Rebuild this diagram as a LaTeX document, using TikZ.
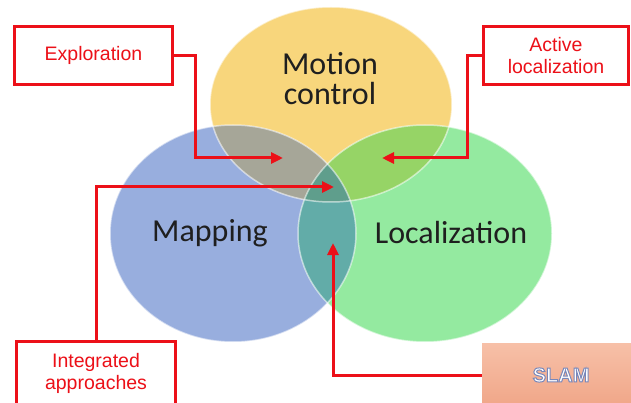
\documentclass[tikz,border=0pt]{standalone}
\usepackage{fontspec}
\setmainfont{Liberation Sans}
\newfontfamily\calib{Carlito}
\usetikzlibrary{arrows.meta}
\definecolor{cy}{RGB}{248,214,124}
\definecolor{cb}{RGB}{152,174,222}
\definecolor{cg}{RGB}{148,234,160}
\definecolor{cyb}{RGB}{166,166,152}
\definecolor{cyg}{RGB}{150,212,102}
\definecolor{cbg}{RGB}{98,172,168}
\definecolor{cybg}{RGB}{95,158,140}
\definecolor{redz}{RGB}{236,16,24}
\definecolor{slamtop}{RGB}{247,192,168}
\definecolor{slambot}{RGB}{240,166,136}
\newcommand\outltext[1]{{\color{white}\special{pdf:literal direct 0.47 0.53 0.73 RG 2 Tr 1.0 w}#1\special{pdf:literal direct 0 Tr}}}
\tikzset{
  lab/.style={font=\calib\fontsize{32}{30}\selectfont, text=black!88, align=center},
  rbox/.style={draw=redz, line width=3pt, fill=white, text=redz, align=center,
    font=\fontsize{19.5}{22}\selectfont, inner sep=0pt},
  conn/.style={draw=redz, line width=3pt, -{Triangle[length=12pt,width=11pt]}},
  rim/.style={draw=white, draw opacity=0.55, line width=1.5pt}
}
\begin{document}
\begin{tikzpicture}[x=1pt,y=-1pt]
\useasboundingbox (0,0) rectangle (631,403);
\def\Y{(331,104.5) ellipse [x radius=121pt, y radius=97.5pt]}
\def\B{(233,233.5) ellipse [x radius=123pt, y radius=108.5pt]}
\def\G{(425,233.5) ellipse [x radius=127pt, y radius=108.5pt]}
\fill[cy] \Y;
\fill[cb] \B;
\fill[cg] \G;
\begin{scope}\clip \Y; \fill[cyb] \B; \end{scope}
\begin{scope}\clip \Y; \fill[cyg] \G; \end{scope}
\begin{scope}\clip \B; \fill[cbg] \G; \end{scope}
\begin{scope}\clip \Y; \clip \B; \fill[cybg] \G; \end{scope}
\path[rim] \Y; \path[rim] \B; \path[rim] \G;
\node[lab] (mc) at (330,79) {Motion\\control};
\node[lab] (mp) at (210,233) {Mapping};
\node[lab] (lc) at (451,233) {Localization};
\node[rbox, minimum width=158pt, minimum height=58pt] (exp) at (93.5,55.5) {Exploration};
\node[rbox, minimum width=145pt, minimum height=58pt] (act) at (556,55.5) {Active\\localization};
\node[rbox, minimum width=159pt, minimum height=63.5pt] (int) at (96,373.25) {Integrated\\approaches};
\node[top color=slamtop, bottom color=slambot, minimum width=158pt, minimum height=64pt, inner sep=0pt,
  font=\bfseries\fontsize{20}{22}\selectfont] (slam) at (561,375) {\outltext{SLAM}};
\coordinate (t1) at (283,158);
\coordinate (t2) at (382,158);
\coordinate (t3) at (334,187);
\coordinate (t4) at (333,243);
\draw[conn] (exp.east) -- ++(21,0) |- (t1);
\draw[conn] (act.west) -- ++(-15,0) |- (t2);
\draw[conn] (int.north) |- (t3);
\draw[conn] (slam.west) -| (t4);
\end{tikzpicture}
\end{document}
